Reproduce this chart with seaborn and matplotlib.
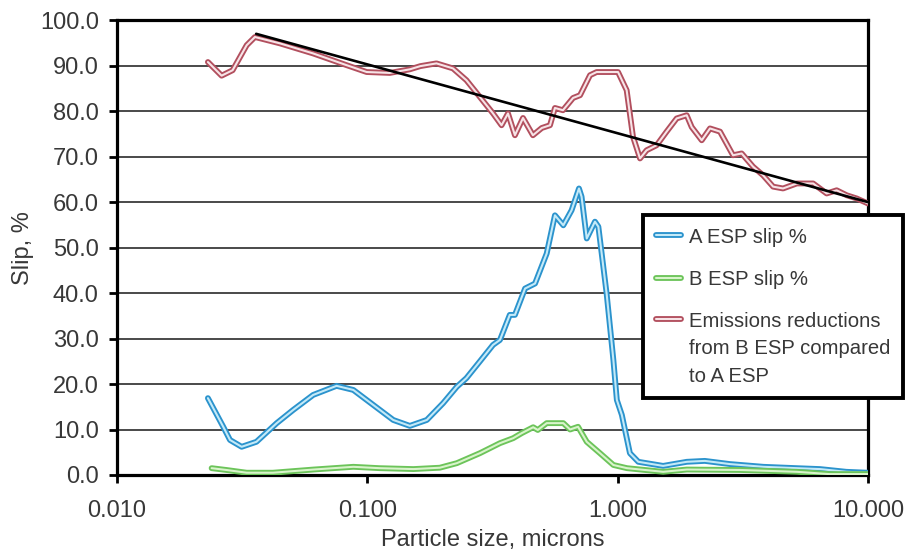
import numpy as np
import pandas as pd
import matplotlib
matplotlib.use("Agg")
import matplotlib.pyplot as plt
import matplotlib.patheffects as pe
from matplotlib.lines import Line2D
import seaborn as sns

# particle size (microns) / slip (%)
red_x = [0.0231, 0.0262, 0.029, 0.033, 0.0356, 0.0448, 0.0607, 0.0828, 0.0995, 0.123,
         0.148, 0.163, 0.189, 0.22, 0.249, 0.282, 0.318, 0.344, 0.365, 0.389,
         0.419, 0.459, 0.498, 0.537, 0.562, 0.605, 0.664, 0.708, 0.776, 0.825,
         1.004, 1.087, 1.152, 1.229, 1.306, 1.432, 1.57, 1.722, 1.888, 1.977,
         2.168, 2.339, 2.565, 2.891, 3.13, 3.475, 3.81, 4.18, 4.58, 5.2,
         6.04, 6.84, 7.5, 8.23, 9.02, 10.0]
red_y = [90.8, 87.8, 89.0, 94.5, 96.3, 94.9, 92.7, 90.1, 88.6, 88.4,
         89.2, 89.9, 90.5, 89.4, 86.8, 83.1, 79.5, 76.9, 79.5, 74.7,
         78.5, 74.7, 76.3, 76.9, 80.7, 80.2, 82.9, 83.5, 87.9, 88.6,
         88.6, 84.6, 74.4, 69.6, 71.4, 72.5, 75.5, 78.4, 79.1, 76.5,
         73.6, 76.2, 75.5, 70.3, 70.7, 67.8, 65.9, 63.4, 63.0, 64.1,
         64.1, 61.9, 62.6, 61.5, 60.8, 59.7]

blue_x = [0.0231, 0.0266, 0.0283, 0.0315, 0.0361, 0.0435, 0.0506, 0.0608, 0.0754, 0.088,
          0.1057, 0.127, 0.148, 0.173, 0.201, 0.228, 0.249, 0.282, 0.318, 0.339,
          0.371, 0.389, 0.427, 0.468, 0.521, 0.562, 0.607, 0.655, 0.701, 0.718,
          0.753, 0.812, 0.838, 0.904, 0.962, 0.993, 1.04, 1.12, 1.21, 1.52,
          1.89, 2.23, 2.81, 3.82, 5.2, 6.44, 8.2, 10.0]
blue_y = [16.9, 10.6, 7.7, 6.2, 7.3, 11.4, 14.3, 17.6, 19.6, 18.7,
          15.4, 12.1, 10.8, 12.1, 15.8, 19.4, 21.3, 25.0, 28.6, 29.7,
          35.2, 35.2, 41.0, 42.1, 48.7, 57.1, 54.9, 58.2, 63.0, 61.2,
          52.0, 55.7, 54.6, 39.9, 25.3, 16.5, 13.2, 4.8, 2.9, 2.0,
          2.9, 3.1, 2.4, 1.8, 1.5, 1.3, 0.7, 0.5]

green_x = [0.0239, 0.0274, 0.033, 0.042, 0.061, 0.088, 0.112, 0.153, 0.195, 0.228,
           0.282, 0.339, 0.383, 0.414, 0.46, 0.48, 0.521, 0.607, 0.646, 0.695,
           0.753, 0.85, 0.962, 1.09, 1.52, 1.89, 3.1, 5.2, 7.0, 10.0]
green_y = [1.5, 1.1, 0.5, 0.5, 1.2, 1.8, 1.5, 1.3, 1.6, 2.6,
           4.8, 7.0, 8.1, 9.2, 10.5, 9.9, 11.4, 11.4, 10.0, 10.6,
           7.3, 4.8, 2.2, 1.5, 0.7, 1.2, 1.1, 0.7, 0.2, 0.2]

trend_x = [0.036, 10.0]
trend_y = [97.0, 60.0]

labels = ["A ESP slip %", "B ESP slip %",
          "Emissions reductions\nfrom B ESP compared\nto A ESP"]
outer = ["#2b93cd", "#6cc45a", "#b24f5e"]
inner = ["#c4eaf8", "#d9f4cb", "#f7e4e7"]

sns.set_style("white")
plt.rcParams["font.family"] = ["Liberation Sans", "DejaVu Sans"]
text_col = "#383838"

fig = plt.figure(figsize=(9.06, 5.56), dpi=100)
ax = fig.add_axes([0.129, 0.1457, 0.829, 0.818])


def fx(c):
    return [pe.Stroke(linewidth=4.2, foreground=c), pe.Normal()]


for i, (xs, ys) in enumerate([(blue_x, blue_y), (green_x, green_y), (red_x, red_y)]):
    df = pd.DataFrame({"x": xs, "y": ys})
    sns.lineplot(data=df, x="x", y="y", ax=ax, estimator=None, sort=False,
                 color=inner[i], lw=1.5, zorder=3, path_effects=fx(outer[i]))

sns.lineplot(x=trend_x, y=trend_y, ax=ax, color="black", lw=1.9, zorder=4)

ax.set_xscale("log")
ax.set_xlim(0.01, 10)
ax.set_ylim(0, 100)
ax.set_xticks([0.01, 0.1, 1, 10])
ax.set_xticklabels(["0.010", "0.100", "1.000", "10.000"])
ax.xaxis.set_minor_locator(matplotlib.ticker.NullLocator())
ax.set_yticks(np.arange(0, 101, 10))
ax.set_yticklabels([f"{v:.1f}" for v in np.arange(0, 101, 10)])

ax.yaxis.grid(True, color="#3a3a3a", lw=1.3)
ax.xaxis.grid(False)
ax.set_axisbelow(True)
for s in ax.spines.values():
    s.set_color("black")
    s.set_linewidth(2.3)

ax.tick_params(axis="both", direction="out", length=6, width=2, color="black",
               labelsize=17, labelcolor=text_col, left=True, bottom=True)
ax.tick_params(axis="y", pad=7)
ax.tick_params(axis="x", pad=12)

ax.set_xlabel("Particle size, microns", fontsize=17, color=text_col, labelpad=5)
ax.set_ylabel("Slip, %", fontsize=17, color=text_col, labelpad=4)

handles = [Line2D([0], [0], color=inner[i], lw=1.5, solid_capstyle="round",
                  path_effects=fx(outer[i]))
           for i in range(3)]
leg = fig.legend(handles, labels, loc="upper left", bbox_to_anchor=(0.7097, 0.6133),
                 fontsize=14.6, frameon=True, fancybox=False, framealpha=1,
                 handlelength=1.25, handletextpad=0.4, labelspacing=1.15,
                 borderpad=0.62, borderaxespad=0, labelcolor=text_col)
leg.get_frame().set_edgecolor("black")
leg.get_frame().set_linewidth(2.8)
leg.set_zorder(10)
for t in leg.get_texts():
    t.set_linespacing(1.55)
# put the handle of the multi-line entry next to its first line
rows = leg._legend_handle_box.get_children()[0].get_children()
rows[2].align = "top"

fig.savefig("out.png", dpi=100)
plt.close(fig)
